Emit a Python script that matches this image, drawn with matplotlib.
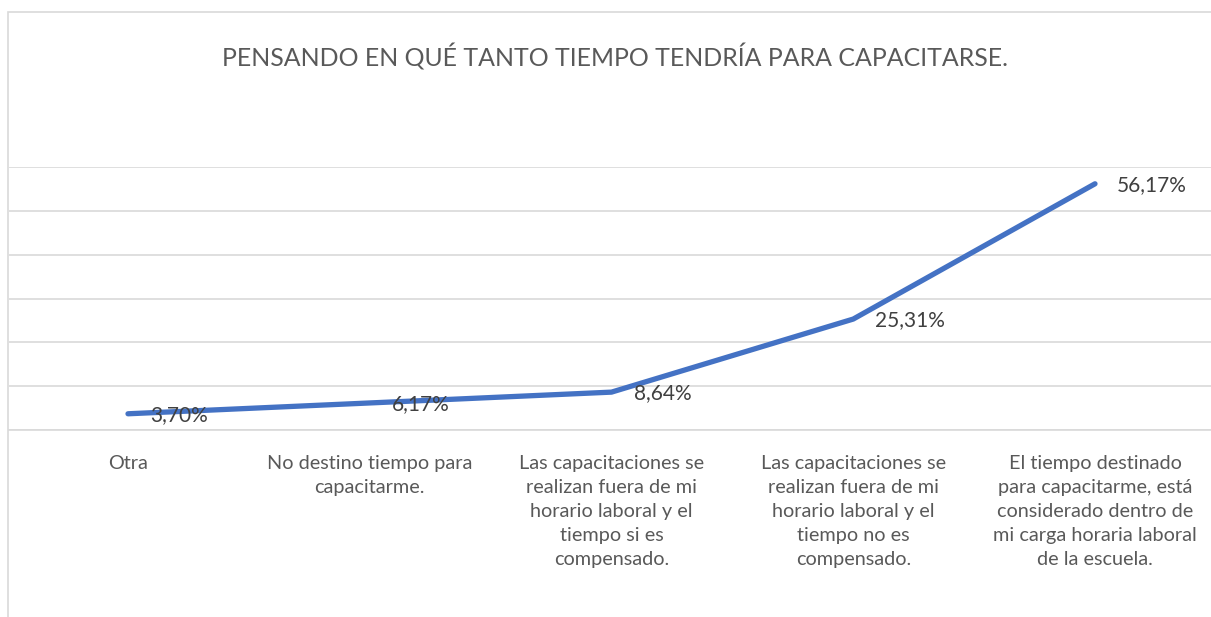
import matplotlib
matplotlib.use("Agg")
import matplotlib.pyplot as plt
from matplotlib.patches import Rectangle

categories = [
    "Otra",
    "No destino tiempo para\ncapacitarme.",
    "Las capacitaciones se\nrealizan fuera de mi\nhorario laboral y el\ntiempo si es\ncompensado.",
    "Las capacitaciones se\nrealizan fuera de mi\nhorario laboral y el\ntiempo no es\ncompensado.",
    "El tiempo destinado\npara capacitarme, está\nconsiderado dentro de\nmi carga horaria laboral\nde la escuela.",
]
values = [3.70, 6.17, 8.64, 25.31, 56.17]
value_labels = ["3,70%", "6,17%", "8,64%", "25,31%", "56,17%"]
title = "PENSANDO EN QUÉ TANTO TIEMPO TENDRÍA PARA CAPACITARSE."

plt.rcParams['font.family'] = ['Lato', 'DejaVu Sans']

W, H = 1211, 617
fig = plt.figure(figsize=(W / 100, H / 100), dpi=100)

# chart border
fig.patches.append(Rectangle((8 / W, -0.1), 1.2, 1 - 12 / H + 0.1, transform=fig.transFigure,
                             fill=False, edgecolor="#d9d9d9", linewidth=1.2))

ax_left, ax_right = 9, 1211
ax_top, ax_bottom = 167, 430
ax = fig.add_axes([ax_left / W, 1 - ax_bottom / H, (ax_right - ax_left) / W, (ax_bottom - ax_top) / H])
ax.set_facecolor("none")

x = list(range(len(categories)))
ax.plot(x, values, color="#4472C4", linewidth=3.8, solid_capstyle="round", solid_joinstyle="round", zorder=3)

for xi, v, lab in zip(x, values, value_labels):
    ax.annotate(lab, (xi, v), xytext=(16, -1), textcoords="offset points",
                ha="left", va="center", fontsize=15, color="#404040", zorder=4)

px_per_unit = (1095 - 128) / 4
ax.set_xlim((ax_left - 128) / px_per_unit, (ax_right - 128) / px_per_unit)
ax.set_ylim(0, 60)
ax.set_yticks(range(0, 61, 10))
ax.yaxis.grid(True, color="#d9d9d9", linewidth=1.2)
ax.set_axisbelow(True)
ax.tick_params(axis="y", left=False, labelleft=False)
ax.tick_params(axis="x", bottom=False, pad=14.5)
ax.set_xticks(x)
ax.set_xticklabels(categories, fontsize=14.3, color="#595959", linespacing=1.5, va="top", ha="center")
for s in ["top", "right", "left"]:
    ax.spines[s].set_visible(False)
ax.spines["bottom"].set_color("#d9d9d9")
ax.spines["bottom"].set_linewidth(1.2)

fig.text(615 / W, 1 - 57 / H, title, ha="center", va="center", fontsize=17.95, color="#595959")

fig.savefig("out.png", dpi=100)
